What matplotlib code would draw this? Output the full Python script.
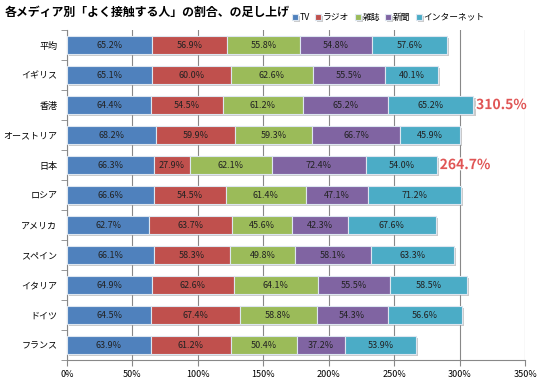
import numpy as np
from matplotlib import pyplot as plt
from matplotlib import patheffects as pe

plt.rcParams['font.family'] = ['Noto Sans CJK JP', 'DejaVu Sans']

countries = ['平均', 'イギリス', '香港', 'オーストリア', '日本', 'ロシア',
             'アメリカ', 'スペイン', 'イタリア', 'ドイツ', 'フランス']
media = ['TV', 'ラジオ', '雑誌', '新聞', 'インターネット']
tv = [65.2, 65.1, 64.4, 68.2, 66.3, 66.6, 62.7, 66.1, 64.9, 64.5, 63.9]
radio = [56.9, 60.0, 54.5, 59.9, 27.9, 54.5, 63.7, 58.3, 62.6, 67.4, 61.2]
magazine = [55.8, 62.6, 61.2, 59.3, 62.1, 61.4, 45.6, 49.8, 64.1, 58.8, 50.4]
newspaper = [54.8, 55.5, 65.2, 66.7, 72.4, 47.1, 42.3, 58.1, 55.5, 54.3, 37.2]
internet = [57.6, 40.1, 65.2, 45.9, 54.0, 71.2, 67.6, 63.3, 58.5, 56.6, 53.9]
# 元の図に書かれている合計ラベル
total_labels = {'香港': '310.5%', '日本': '264.7%'}

colors = ['#4F81BD', '#C0504D', '#9BBB59', '#8064A2', '#4BACC6']

fig = plt.figure(figsize=(5.39, 3.81), dpi=100)
ax = fig.add_axes([0.1243, 0.055, 0.85, 0.866])

y = np.arange(len(countries))
left = np.zeros(len(countries))
shadow = [pe.SimplePatchShadow(offset=(1.5, -1.5), shadow_rgbFace='#999999', alpha=0.5), pe.Normal()]
for name, vals, c in zip(media, [tv, radio, magazine, newspaper, internet], colors):
    vals = np.array(vals)
    bars = ax.barh(y, vals, left=left, height=0.58, color=c, edgecolor='#DDE6F0',
                   linewidth=0.8, label=name, zorder=3)
    for b in bars:
        b.set_path_effects(shadow)
    for yi, l, v in zip(y, left, vals):
        ax.text(l + v / 2, yi, f'{v:.1f}%', ha='center', va='center',
                fontsize=6.5, color='#222222', zorder=4)
    left = left + vals

for i, name in enumerate(countries):
    if name in total_labels:
        ax.text(left[i] + 2, i, total_labels[name], ha='left', va='center',
                fontsize=10, fontweight='bold', color='#E05555', zorder=5,
                path_effects=[pe.withStroke(linewidth=2, foreground='white')])

ax.set_xlim(0, 350)
ax.set_ylim(len(countries) - 0.5, -0.5)
ax.set_xticks(np.arange(0, 351, 50))
ax.set_xticklabels([f'{v}%' for v in range(0, 351, 50)], fontsize=6.5)
ax.set_yticks(y)
ax.set_yticklabels(countries, fontsize=6.5)
ax.set_yticks(np.arange(-0.5, len(countries), 1), minor=True)
ax.tick_params(axis='y', which='major', length=0, pad=7)
ax.tick_params(axis='y', which='minor', length=4, color='#888888')
ax.tick_params(axis='x', length=4, color='#888888', direction='out')
ax.grid(axis='x', color='#888888', linewidth=0.8, zorder=0)
for s in ['top', 'right']:
    ax.spines[s].set_visible(False)
for s in ['left', 'bottom']:
    ax.spines[s].set_color('#888888')

fig.text(0.008, 0.985, '各メディア別「よく接触する人」の割合、の足し上げ', fontsize=8.6,
         fontweight='bold', va='top', ha='left')
fig.legend(loc='center left', bbox_to_anchor=(0.535, 0.955), ncol=5, frameon=False,
           fontsize=6.3, handlelength=0.7, handleheight=0.7, handletextpad=0.2,
           columnspacing=0.6, borderaxespad=0)

fig.savefig('out.png', dpi=100)
